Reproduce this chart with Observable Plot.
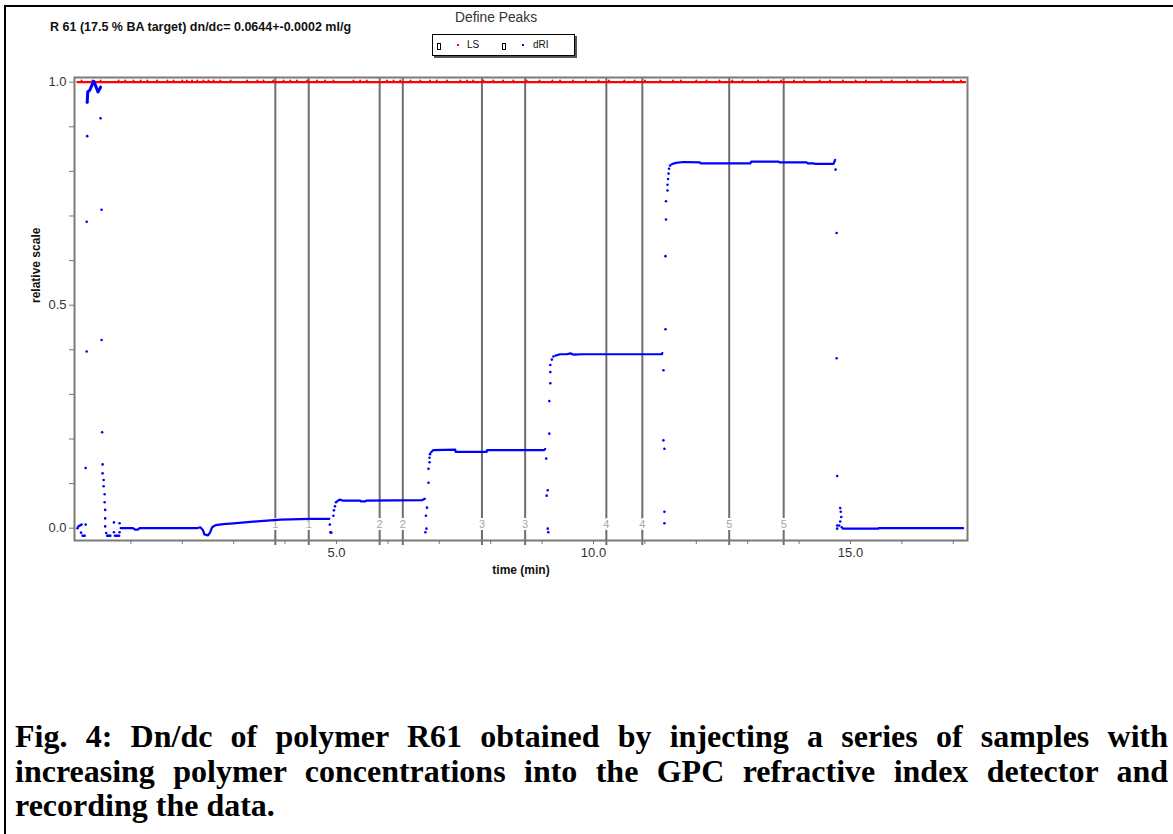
<!DOCTYPE html>
<html>
<head>
<meta charset="utf-8">
<script src="https://cdn.jsdelivr.net/npm/d3@7"></script>
<script src="https://cdn.jsdelivr.net/npm/@observablehq/plot@0.6"></script>
<style>
html, body { margin: 0; padding: 0; background: #fff; overflow: hidden; }
#wrap { position: relative; width: 1173px; height: 834px; overflow: hidden; font-family: "Liberation Sans", Arial, sans-serif; }
#border { position: absolute; left: 4px; top: 5px; width: 1300px; height: 900px; border-left: 2px solid #000; border-top: 2px solid #000; z-index: 5; pointer-events: none; }
#chart { position: absolute; left: 0; top: 0; }
#title { position: absolute; left: 50px; top: 20px; font-weight: bold; font-size: 12.5px; line-height: 14px; color: #111; white-space: nowrap; }
#define { position: absolute; left: 455px; top: 10px; font-size: 13.8px; line-height: 16px; color: #333; white-space: nowrap; }
#legend { position: absolute; left: 432px; top: 34px; width: 141px; height: 20px; border: 1px solid #000; background: #fff; box-shadow: 2px 2px 0 #555; }
#legend .box { position: absolute; top: 8px; width: 2px; height: 5px; border: 1px solid #000; }
#legend .dot { position: absolute; top: 9px; width: 2px; height: 2px; }
#legend .lab { position: absolute; top: 4px; font-size: 10px; line-height: 12px; color: #111; }
#caption { position: absolute; left: 15px; top: 719px; width: 1153px; font-family: "Liberation Serif", "Times New Roman", serif; font-weight: bold; font-size: 32px; line-height: 34.5px; color: #000; }
#caption .jl { text-align: justify; text-align-last: justify; }
</style>
</head>
<body>
<div id="wrap">
  <div id="chart"></div>
  <div id="title">R 61 (17.5 % BA target) dn/dc= 0.0644+-0.0002 ml/g</div>
  <div id="define">Define Peaks</div>
  <div id="legend">
    <div class="box" style="left:4px"></div>
    <div class="dot" style="left:24px;background:#ff0000"></div>
    <div class="lab" style="left:34px">LS</div>
    <div class="box" style="left:69px"></div>
    <div class="dot" style="left:89px;background:#0000ff"></div>
    <div class="lab" style="left:100px">dRI</div>
  </div>
  <div id="caption">
    <div class="jl">Fig. 4: Dn/dc of polymer R61 obtained by injecting a series of samples with</div>
    <div class="jl">increasing polymer concentrations into the GPC refractive index detector and</div>
    <div>recording the data.</div>
  </div>
  <div id="border"></div>
</div>
<script>
// ---- axis ticks ----
const xMajorTicks = [5, 10, 15];
const xMinorTicks = [1, 2, 3, 4, 6, 7, 8, 9, 11, 12, 13, 14, 16, 17];
const yMajorTicks = [0, 0.5, 1.0];
const yMinorTicks = [0.1, 0.2, 0.3, 0.4, 0.6, 0.7, 0.8, 0.9];

// ---- peak definitions ----
const peakTimes = [3.81, 4.46, 5.84, 6.29, 7.83, 8.67, 10.25, 10.95, 12.64, 13.70];
const peakLabels = ["1", "1", "2", "2", "3", "3", "4", "4", "5", "5"];

// ---- LS (light scattering) trace ----
const lsLine = [[-0.04, 1.0], [17.23, 1.0]];
const lsSpikes = [0.04, 0.25, 0.41, 0.76, 0.89, 1.05, 1.19, 1.32, 1.51, 1.71, 1.83, 2.0, 2.09, 2.19, 2.29,
  2.41, 2.51, 2.61, 2.74, 2.94, 3.26, 3.46, 3.58, 3.77, 3.97, 4.10, 4.23, 4.43, 4.62, 4.78, 4.94,
  5.33, 5.46, 5.59, 5.98, 6.11, 6.24, 6.44, 6.63, 6.82, 6.95, 7.15, 7.41, 7.54, 7.66, 7.86, 8.05,
  8.24, 8.44, 8.7, 8.95, 9.2, 9.35, 9.6, 9.85, 10.1, 10.3, 10.6, 10.8, 11.0, 11.3, 11.55, 11.7,
  12.0, 12.2, 12.45, 12.7, 12.9, 13.2, 13.4, 13.65, 13.9, 14.1, 14.4, 14.6, 14.85, 15.1, 15.3,
  15.6, 15.8, 16.1, 16.3, 16.55, 16.8, 17.0, 17.15];

// ---- dRI trace: continuous plateau sections [time, value] ----
const driWiggle = [[0.15, 0.955], [0.16, 0.978], [0.20, 0.982], [0.24, 0.993], [0.28, 1.002],
  [0.32, 0.99], [0.36, 0.978], [0.39, 0.984], [0.41, 0.989]];
const driPlateau0 = [[0.80, 0.0], [1.04, 0.0], [1.08, -0.003], [1.14, -0.003], [1.17, 0.0], [2.29, 0.0],
  [2.35, 0.002], [2.40, -0.004], [2.43, -0.014], [2.50, -0.016], [2.54, -0.01], [2.58, 0.002],
  [2.65, 0.007], [2.80, 0.009], [3.00, 0.011], [3.52, 0.016], [3.91, 0.019], [4.49, 0.021], [4.86, 0.021]];
const driPlateau1 = [[5.01, 0.060], [5.06, 0.064], [5.12, 0.062], [5.46, 0.062], [5.48, 0.060],
  [5.56, 0.060], [5.58, 0.062], [6.67, 0.063], [6.72, 0.066]];
const driPlateau2 = [[6.84, 0.170], [6.88, 0.175], [7.31, 0.176], [7.32, 0.171], [7.92, 0.171],
  [7.93, 0.175], [9.04, 0.175], [9.06, 0.178]];
const driPlateau3 = [[9.26, 0.387], [9.35, 0.390], [9.48, 0.390], [9.55, 0.392], [9.62, 0.389],
  [9.77, 0.390], [11.33, 0.390], [11.34, 0.393]];
const driPlateau4 = [[11.52, 0.816], [11.60, 0.819], [11.75, 0.821], [12.07, 0.820], [12.09, 0.818],
  [13.05, 0.818], [13.07, 0.822], [13.60, 0.822], [13.62, 0.820], [14.15, 0.820], [14.17, 0.818],
  [14.28, 0.818], [14.30, 0.817], [14.67, 0.817], [14.70, 0.826]];
const driPlateau5 = [[14.85, -0.001], [15.54, -0.001], [15.55, 0.0], [17.19, 0.0]];

// ---- dRI trace: sparse points during injections ----
const driDots = [
  [-0.04, 0.0], [-0.02, 0.004], [0.01, 0.006], [0.04, 0.008], [0.03, -0.010], [0.06, -0.017],
  [0.08, -0.017], [0.10, -0.017], [0.12, 0.008],
  [0.12, 0.135], [0.14, 0.396], [0.14, 0.687], [0.15, 0.879], [0.15, 0.955],
  [0.41, 0.919], [0.43, 0.714], [0.43, 0.422], [0.44, 0.215], [0.45, 0.143], [0.45, 0.123],
  [0.47, 0.108], [0.47, 0.094], [0.49, 0.076], [0.49, 0.058], [0.50, 0.041], [0.50, 0.022],
  [0.50, 0.004], [0.52, -0.011],
  [0.54, -0.017], [0.56, -0.017], [0.58, -0.017], [0.60, -0.017], [0.67, -0.009], [0.69, -0.017],
  [0.72, -0.017], [0.74, -0.017], [0.77, -0.017], [0.67, 0.013], [0.78, 0.011], [0.78, -0.009],
  [4.87, 0.008], [4.88, -0.009], [4.90, -0.010], [4.94, 0.028], [4.95, 0.040], [4.97, 0.049], [4.99, 0.058],
  [6.73, -0.009], [6.75, -0.001], [6.74, 0.028], [6.76, 0.046], [6.79, 0.102], [6.79, 0.133],
  [6.81, 0.148], [6.81, 0.158], [6.82, 0.166],
  [9.08, 0.156], [9.11, 0.085], [9.09, 0.073], [9.11, -0.001], [9.12, -0.009],
  [9.14, 0.212], [9.14, 0.285], [9.16, 0.325], [9.16, 0.35], [9.16, 0.366], [9.19, 0.378], [9.22, 0.385],
  [11.36, 0.354], [11.36, 0.197], [11.38, 0.178], [11.38, 0.037], [11.38, 0.011],
  [11.40, 0.446], [11.40, 0.610], [11.41, 0.692], [11.41, 0.733], [11.44, 0.757], [11.44, 0.770],
  [11.45, 0.783], [11.46, 0.795], [11.47, 0.806], [11.49, 0.813],
  [14.71, 0.804], [14.73, 0.662], [14.73, 0.381], [14.74, 0.117], [14.80, 0.045], [14.81, 0.037],
  [14.82, 0.025], [14.80, 0.015], [14.78, 0.006], [14.74, 0.006], [14.74, -0.001], [14.83, 0.002]
];

// ---- build tables ----
const peaks = peakTimes.map((t, i) => ({t, label: peakLabels[i]}));
const plateaus = [driPlateau0, driPlateau1, driPlateau2, driPlateau3, driPlateau4, driPlateau5]
  .flatMap((seg, k) => seg.map(([t, v]) => ({t, v, seg: k})));

const chart = Plot.plot({
  width: 1173,
  height: 600,
  marginLeft: 74,
  marginRight: 206,
  marginTop: 77,
  marginBottom: 60,
  x: {domain: [-0.097, 17.276]},
  y: {domain: [-0.0276, 1.0105]},
  style: {background: "transparent", fontFamily: "'Liberation Sans', Arial, sans-serif", fontSize: "13px", overflow: "visible"},
  marks: [
    Plot.ruleX(peaks, {x: "t", stroke: "#6e6e6e", strokeWidth: 2, insetBottom: -5}),
    Plot.text(peaks, {x: "t", text: "label", frameAnchor: "bottom", dy: -13, fill: "#a6a6a6", stroke: "white", strokeWidth: 4, fontSize: 11}),
    Plot.frame({stroke: "#7a7a7a", strokeWidth: 2}),
    Plot.axisX({ticks: xMinorTicks, tickSize: 4, tickFormat: () => "", stroke: "#777", label: null}),
    Plot.axisX({ticks: xMajorTicks, tickSize: 4, tickPadding: 3, tickFormat: d3.format(".1f"), stroke: "#777", fill: "#333", label: null}),
    Plot.axisY({ticks: yMinorTicks, tickSize: 5, tickFormat: () => "", stroke: "#777", label: null}),
    Plot.axisY({ticks: yMajorTicks, tickSize: 5, tickPadding: 3, tickFormat: d3.format(".1f"), stroke: "#777", fill: "#333", label: null}),
    Plot.text(["time (min)"], {frameAnchor: "bottom", dy: 33, text: d => d, fontWeight: "bold", fontSize: 12, fill: "#111"}),
    Plot.text(["relative scale"], {frameAnchor: "left", dx: -38, dy: -6, rotate: -90, text: d => d, fontWeight: "bold", fontSize: 12, fill: "#111"}),
    // LS trace
    Plot.line(lsLine, {x: d => d[0], y: d => d[1], stroke: "#ff0000", strokeWidth: 2.2}),
    Plot.dot(lsSpikes, {x: d => d, y: 1.004, r: 1, fill: "#ff0000"}),
    // dRI trace
    Plot.line(plateaus, {x: "t", y: "v", z: "seg", stroke: "#0000ff", strokeWidth: 2.2}),
    Plot.line(driWiggle, {x: d => d[0], y: d => d[1], stroke: "#0000ff", strokeWidth: 3}),
    Plot.dot(driDots, {x: d => d[0], y: d => d[1], r: 1.3, fill: "#0000ff"})
  ]
});
document.getElementById("chart").appendChild(chart);
</script>
</body>
</html>
